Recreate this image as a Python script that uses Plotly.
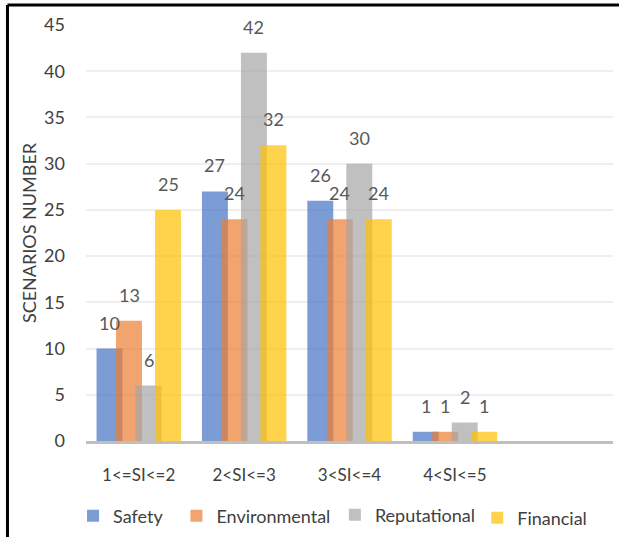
import plotly.graph_objects as go

categories = ["1<=SI<=2", "2<SI<=3", "3<SI<=4", "4<SI<=5"]
series_names = ["Safety", "Environmental", "Reputational", "Financial"]
safety = [10, 27, 26, 1]
environmental = [13, 24, 24, 1]
reputational = [6, 42, 30, 2]
financial = [25, 32, 24, 1]
y_ticks = [0, 5, 10, 15, 20, 25, 30, 35, 40, 45]

values = [safety, environmental, reputational, financial]
colors = ["rgba(68,114,196,0.7)", "rgba(237,125,49,0.7)",
          "rgba(165,165,165,0.7)", "rgba(255,192,0,0.7)"]
bar_w = 0.246
step = 0.185
offsets = [-0.40 + k * step for k in range(4)]
legend_x = [0.118, 0.285, 0.541, 0.771]
legend_y = [516, 516, 515, 518]
font_family = "Lato, 'Open Sans', sans-serif"

x_idx = list(range(len(categories)))
fig = go.Figure()
for k, (name, vals) in enumerate(zip(series_names, values)):
    lname = "legend" if k == 0 else f"legend{k+1}"
    fig.add_trace(go.Bar(
        x=x_idx, y=vals, name=name, width=bar_w, offset=offsets[k],
        marker=dict(color=colors[k], line=dict(width=0)),
        legend=lname, hoverinfo="y+name",
    ))
    for i, v in enumerate(vals):
        fig.add_annotation(
            x=i + offsets[k] + bar_w / 2, y=v, text=str(v),
            showarrow=False, yanchor="bottom", yshift=13,
            font=dict(family=font_family, size=18, color="#595959"),
        )

leg_common = dict(orientation="h", xref="container", yref="container",
                  yanchor="middle", xanchor="left",
                  font=dict(family=font_family, size=18, color="#404040"),
                  bgcolor="rgba(0,0,0,0)")
layout_legends = {}
for k in range(4):
    lname = "legend" if k == 0 else f"legend{k+1}"
    layout_legends[lname] = dict(leg_common, x=legend_x[k],
                                 y=(537 - legend_y[k]) / 537)

fig.update_layout(
    width=619, height=537,
    margin=dict(l=86, r=6, t=25, b=96),
    paper_bgcolor="white", plot_bgcolor="white",
    barmode="overlay",
    font=dict(family=font_family, color="#404040"),
    showlegend=True,
    **layout_legends,
)
fig.update_xaxes(
    range=[-0.5, 4.5], tickmode="array", tickvals=x_idx, ticktext=categories,
    showgrid=False, showline=True, linecolor="#BFBFBF", linewidth=2.5,
    ticks="", tickfont=dict(family=font_family, size=17, color="#404040"),
    ticklabelstandoff=17, zeroline=False,
)
fig.update_yaxes(
    range=[0, 45], tickmode="array", tickvals=y_ticks,
    showgrid=True, gridcolor="#EFEFEF", gridwidth=1.5, zeroline=False,
    showline=False, ticks="",
    tickfont=dict(family=font_family, size=18, color="#404040"),
    ticklabelstandoff=20,
    title=dict(text="SCENARIOS NUMBER", standoff=2,
               font=dict(family=font_family, size=18, color="#404040")),
)

# outer black frame (left and top edges)
fig.add_shape(type="line", xref="paper", yref="paper",
              x0=-0.149, x1=1.05, y0=1.048, y1=1.048,
              line=dict(color="black", width=3))
fig.add_shape(type="line", xref="paper", yref="paper",
              x0=-0.149, x1=-0.149, y0=1.048, y1=-0.3,
              line=dict(color="black", width=3))

fig.write_html("out.html", config={"displayModeBar": False},
               post_script="document.body.style.margin='0';"
                           "document.documentElement.style.overflow='hidden';")
